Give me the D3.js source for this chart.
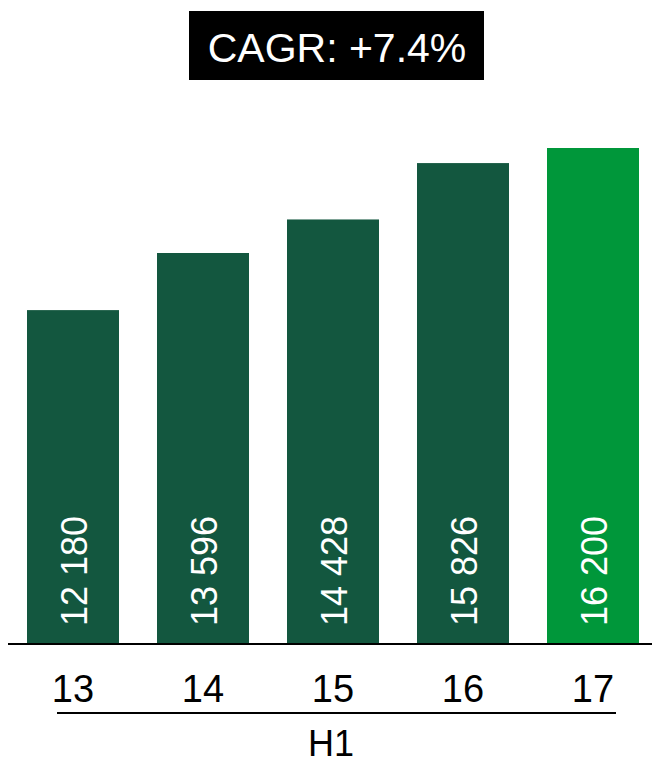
<!DOCTYPE html>
<html>
<head>
<meta charset="utf-8">
<script src="https://cdn.jsdelivr.net/npm/d3@7"></script>
<style>
  body { margin: 0; background: #fff; }
  svg text { font-family: Arial, "Liberation Sans", sans-serif; }
</style>
</head>
<body>
<svg id="chart"></svg>
<script>
// chart data
var years = ['13', '14', '15', '16', '17'];
var values = [12180, 13596, 14428, 15826, 16200];
var valueLabels = ['12 180', '13 596', '14 428', '15 826', '16 200'];
var groupLabel = 'H1';
var cagrText = 'CAGR: +7.4%';

var width = 652, height = 763;
var baseY = 644;
var darkGreen = '#13573f', lightGreen = '#00973a';

var svg = d3.select('#chart').attr('width', width).attr('height', height);

var x = d3.scaleBand()
    .domain(years)
    .range([8, 658])
    .paddingInner(38 / 130)
    .paddingOuter(19 / 130);

// the value axis does not start at zero
var y = d3.scaleLinear()
    .domain([3900, 16200])
    .range([baseY, 148]);

var data = years.map((d, i) => ({ year: d, value: values[i], label: valueLabels[i] }));

// bars
svg.selectAll('.bar')
    .data(data)
    .enter()
    .append('rect')
    .attr('class', 'bar')
    .attr('x', d => x(d.year))
    .attr('width', x.bandwidth())
    .attr('y', d => y(d.value))
    .attr('height', d => baseY - y(d.value))
    .attr('fill', (d, i) => i == years.length - 1 ? lightGreen : darkGreen);

// value labels, rotated inside the bars
svg.selectAll('.val')
    .data(data)
    .enter()
    .append('text')
    .attr('class', 'val')
    .attr('transform', d => 'translate(' + (x(d.year) + x.bandwidth() / 2 + 14) + ',' + (baseY - 18) + ')rotate(-90)')
    .attr('fill', 'white')
    .style('font-size', '36px')
    .text(d => d.label);

// baseline
svg.append('line')
    .attr('x1', x.range()[0]).attr('x2', width)
    .attr('y1', baseY).attr('y2', baseY)
    .attr('stroke', 'black')
    .attr('stroke-width', 2);

// category axis
var xAxis = svg.append('g')
    .attr('transform', 'translate(0,' + baseY + ')')
    .call(d3.axisBottom(x).tickSize(0).tickPadding(0));
xAxis.select('.domain').remove();
xAxis.selectAll('text')
    .attr('dy', null)
    .attr('y', 58)
    .attr('fill', 'black')
    .style('font-size', '38px')
    .style('font-family', 'Arial, "Liberation Sans", sans-serif');

// group underline and label
svg.append('line')
    .attr('x1', 57).attr('x2', 616)
    .attr('y1', 713).attr('y2', 713)
    .attr('stroke', 'black')
    .attr('stroke-width', 2);
svg.append('text')
    .attr('x', 331)
    .attr('y', 756)
    .attr('text-anchor', 'middle')
    .style('font-size', '36px')
    .text(groupLabel);

// CAGR box
svg.append('rect')
    .attr('x', 189).attr('y', 11)
    .attr('width', 295).attr('height', 69)
    .attr('fill', 'black');
svg.append('text')
    .attr('x', 337)
    .attr('y', 62)
    .attr('text-anchor', 'middle')
    .attr('fill', 'white')
    .style('font-size', '41px')
    .text(cagrText);
</script>
</body>
</html>
